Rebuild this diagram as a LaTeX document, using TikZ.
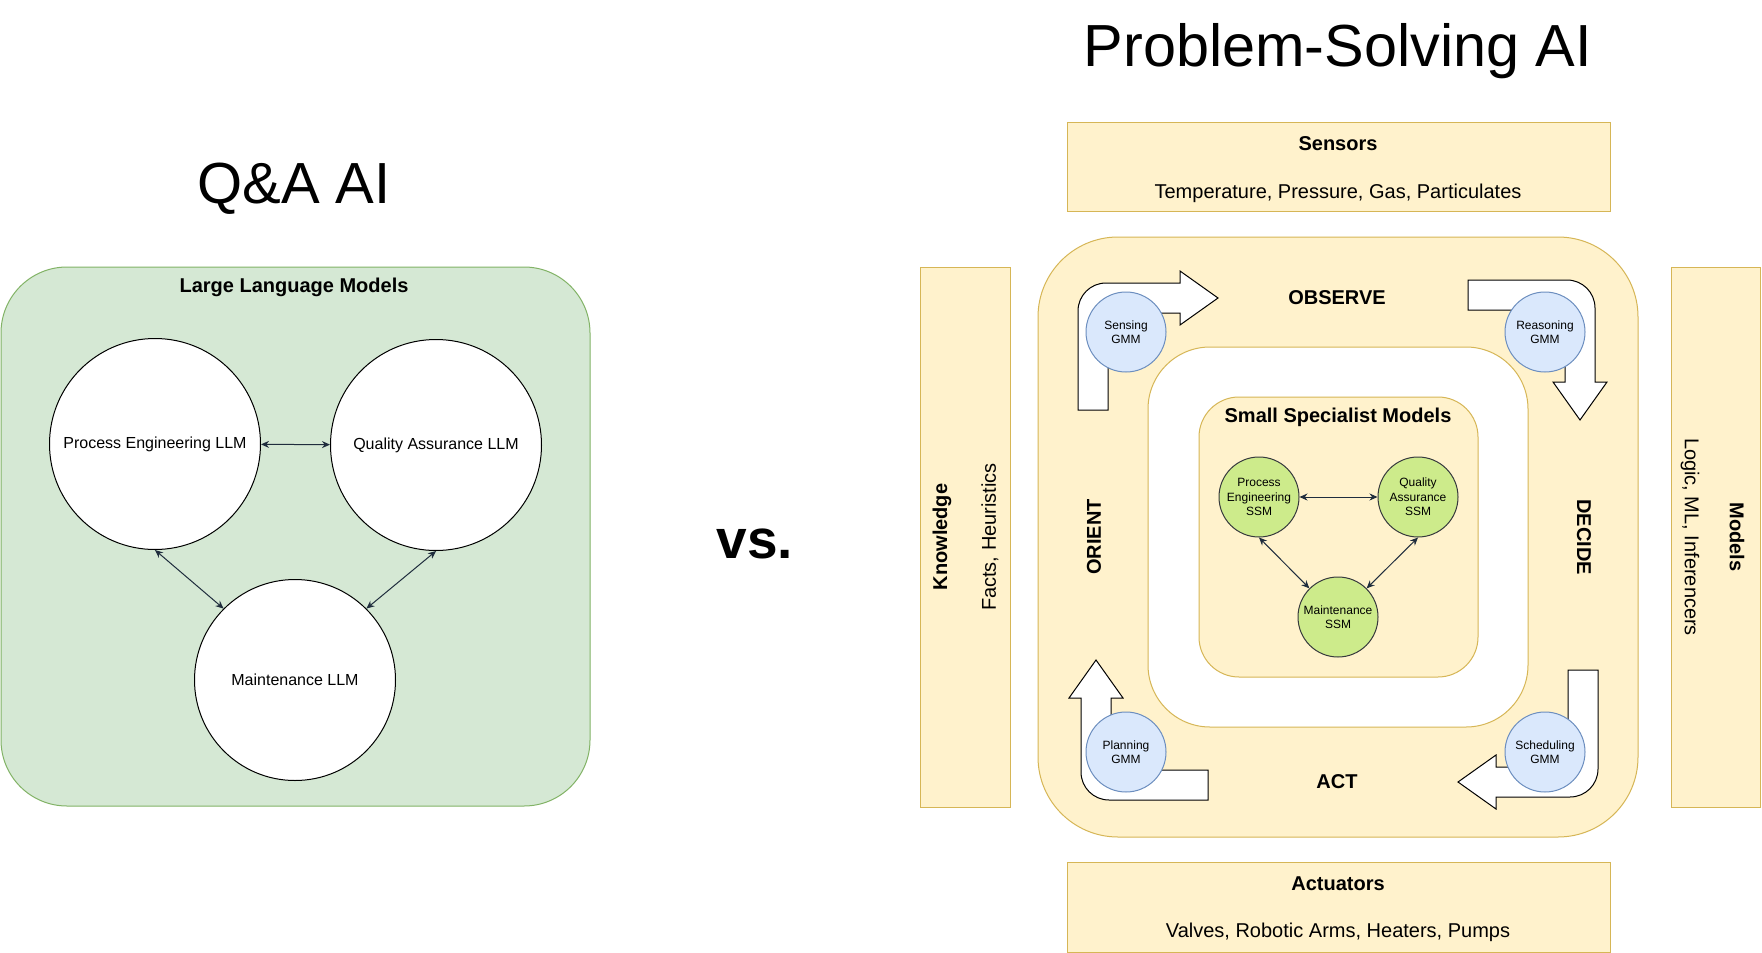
\documentclass[tikz,border=0pt]{standalone}
\usepackage{fontspec}
\setmainfont{Liberation Sans}
\usetikzlibrary{arrows.meta,positioning}
\definecolor{llmfill}{HTML}{D5E8D4}
\definecolor{llmline}{HTML}{82B366}
\definecolor{sand}{HTML}{FFF2CC}
\definecolor{sandline}{HTML}{D6B656}
\definecolor{gmmfill}{HTML}{DAE8FC}
\definecolor{gmmline}{HTML}{6C8EBF}
\definecolor{ssmfill}{HTML}{CDEB8B}
\definecolor{ssmline}{HTML}{36393D}
\definecolor{ink}{HTML}{1F2D3D}

\begin{document}
\begin{tikzpicture}[x=0.5pt,y=-0.5pt,
  lbl/.style={font=\fontsize{10}{12}\selectfont},
  hdr/.style={font=\fontsize{10}{12}\selectfont\bfseries},
  big/.style={font=\fontsize{29}{34}\selectfont,anchor=base},
  llm/.style={circle,draw=black,fill=white,line width=0.5pt,inner sep=0pt,font=\fontsize{8}{10}\selectfont},
  ssm/.style={circle,draw=ssmline,fill=ssmfill,line width=0.5pt,minimum size=40pt,inner sep=0pt,align=center,font=\fontsize{6}{7.2}\selectfont},
  gmm/.style={ssm,draw=gmmline,fill=gmmfill},
  panel/.style={draw=sandline,fill=sand,line width=0.5pt},
  loopshape/.style={draw=black,fill=white,line width=0.5pt},
  dbl/.style={{Stealth[length=4pt,width=3.5pt]}-{Stealth[length=4pt,width=3.5pt]},draw=ink,line width=0.5pt}]
\path[use as bounding box,fill=white] (0,0) rectangle (1762,953);

% left: Q&A AI
\node[big] (qa) at (294,203) {Q\&A AI};
\draw[draw=llmline,fill=llmfill,line width=0.5pt,rounded corners=33pt] (1,267) rectangle (590,806);
\node[hdr] (llms) at (294,287) {Large Language Models};
\node[llm,minimum size=105.5pt] (pe) at (155,444) {Process Engineering LLM};
\node[llm,minimum size=105.5pt] (qal) at (436,445) {Quality Assurance LLM};
\node[llm,minimum size=100.5pt] (mt) at (295,680) {Maintenance LLM};
\draw[dbl] (pe) -- (qal);
\draw[dbl] (pe.south) -- (mt.north west);
\draw[dbl] (qal.south) -- (mt.north east);

\node[font=\fontsize{27.5}{33}\selectfont\bfseries,anchor=base] (vs) at (755,558) {vs.};

% right: Problem-Solving AI
\node[big,font=\fontsize{29.7}{35}\selectfont] (ps) at (1338,66) {Problem-Solving AI};
\draw[panel] (1067,122) rectangle (1610,211);
\node[hdr] (sens) at (1338,144) {Sensors};
\node[lbl] (sensx) at (1338,193) {Temperature, Pressure, Gas, Particulates};
\draw[panel] (1067,862) rectangle (1610,952);
\node[hdr] (act) at (1338,884) {Actuators};
\node[lbl] (actx) at (1338,932) {Valves, Robotic Arms, Heaters, Pumps};
\draw[panel] (920,267) rectangle (1010,807);
\node[hdr,rotate=90] (know) at (942,537) {Knowledge};
\node[lbl,rotate=90] (knowx) at (990,537) {Facts, Heuristics};
\draw[panel] (1671,267) rectangle (1760,807);
\node[hdr,rotate=-90] (mod) at (1737,537) {Models};
\node[lbl,rotate=-90] (modx) at (1690,537) {Logic, ML, Inferencers};

\draw[panel,rounded corners=40pt] (1038,237) rectangle (1638,837);
\draw[draw=sandline,fill=white,line width=0.5pt,rounded corners=31pt] (1148,347) rectangle (1528,727);
\draw[panel,rounded corners=20pt] (1199,397) rectangle (1478,677);

\foreach \a in {0,-90,180,90}
  \draw[loopshape,rotate around={\a:(1338,540)}] (1078,410) -- (1078,311)
    .. controls (1078,295.5) and (1090.5,283) .. (1106,283) -- (1180,283) -- (1180,271)
    -- (1218,298) -- (1180,325) -- (1180,313) -- (1108,313) -- (1108,410) -- cycle;

\node[hdr] (obs) at (1337,298) {OBSERVE};
\node[hdr] (acts) at (1337,782) {ACT};
\node[hdr,rotate=90] (ori) at (1094,537) {ORIENT};
\node[hdr,rotate=-90] (dec) at (1584,537) {DECIDE};

\node[gmm] (sg) at (1126,332) {Sensing\\GMM};
\node[gmm] (rg) at (1545,332) {Reasoning\\GMM};
\node[gmm] (pg) at (1126,752) {Planning\\GMM};
\node[gmm] (sc) at (1545,752) {Scheduling\\GMM};

\node[hdr] (ssms) at (1338,417) {Small Specialist Models};
\node[ssm] (pes) at (1259,497) {Process\\Engineering\\SSM};
\node[ssm] (qas) at (1418,497) {Quality\\Assurance\\SSM};
\node[ssm] (mts) at (1338,617) {Maintenance\\SSM};
\draw[dbl] (pes) -- (qas);
\draw[dbl] (pes.south) -- (mts.north west);
\draw[dbl] (qas.south) -- (mts.north east);
\end{tikzpicture}
\end{document}
